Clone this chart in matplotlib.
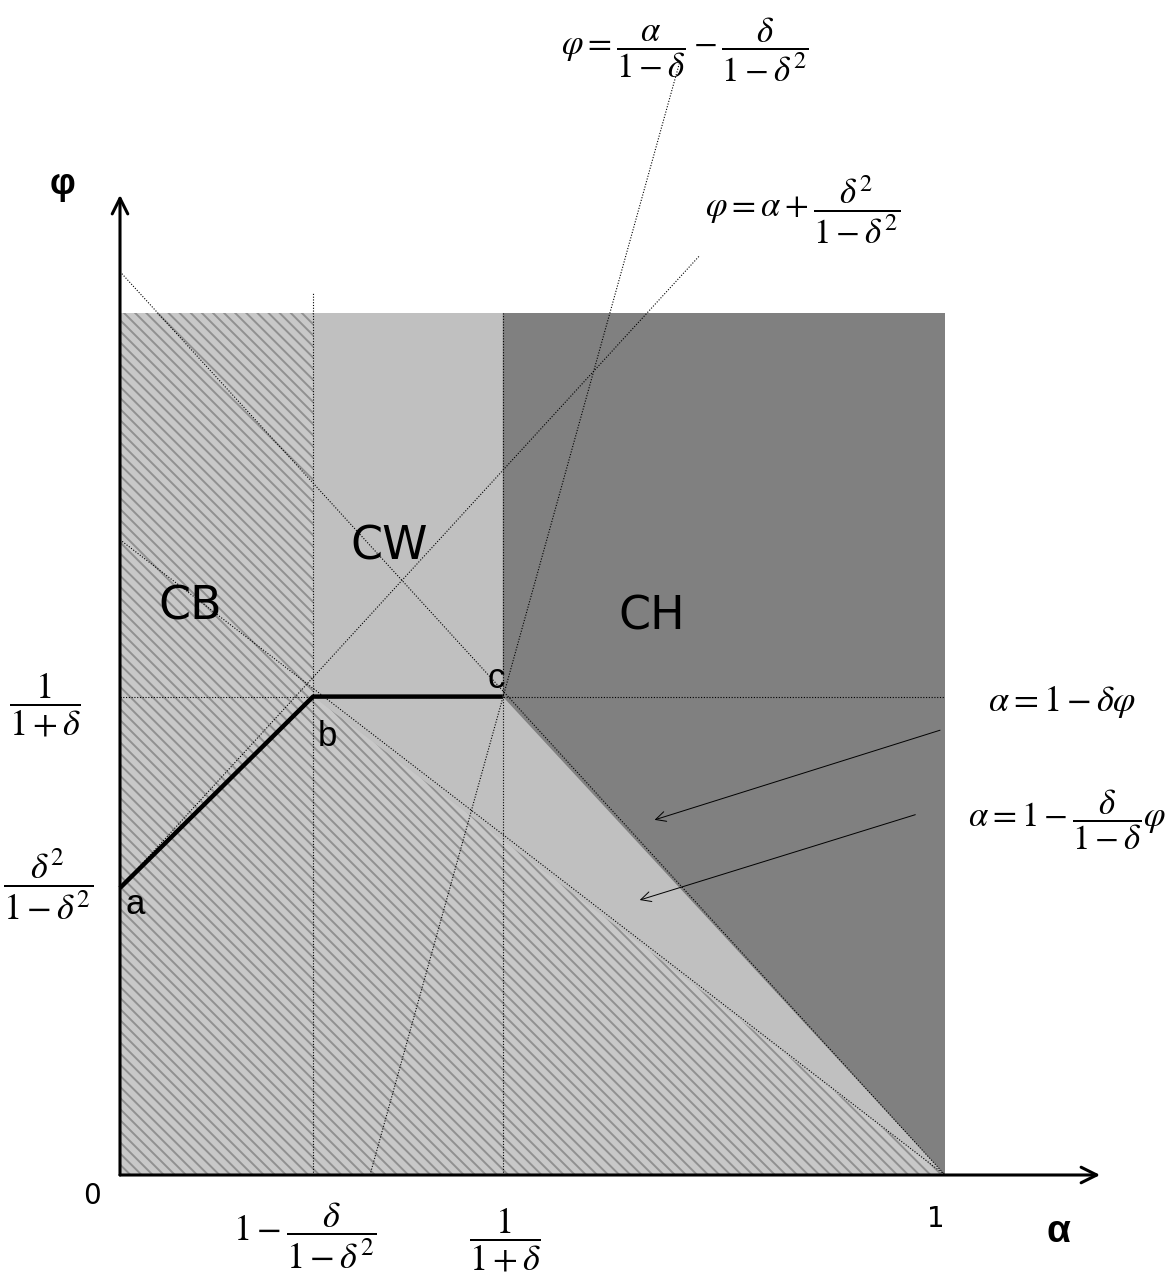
import matplotlib.pyplot as plt
import numpy as np

plt.rcParams['mathtext.fontset'] = 'stix'
plt.rcParams['hatch.linewidth'] = 1.4

ARIAL = ['Liberation Sans', 'DejaVu Sans']

# --- key points of the diagram (alpha, phi) ---
alpha_b = 0.234      # 1 - delta/(1-delta^2)
alpha_c = 0.464      # 1/(1+delta)
phi_c = 0.555        # 1/(1+delta)
phi_a = 0.333        # delta^2/(1-delta^2)

# region outlines
sq_alpha = [0, 1, 1, 0]
sq_phi = [0, 0, 1, 1]
cb_alpha = [0, 0, alpha_b, alpha_b, 1]
cb_phi = [0, 1, 1, phi_c, 0]
ch_alpha = [alpha_c, 1, 1, alpha_c]
ch_phi = [1, 1, 0, phi_c]

# thick equilibrium path a -> b -> c
path_alpha = [0, alpha_b, alpha_c]
path_phi = [phi_a, phi_c, phi_c]

# dotted guide lines: (alpha0, phi0, alpha1, phi1)
guide_lines = [
    (alpha_b, 0, alpha_b, 1.023),
    (alpha_c, 0, alpha_c, 1.0),
    (0, phi_c, 1, phi_c),
    (0, 1.048, 1, 0),          # alpha = 1 - delta*phi
    (0, 0.737, 1, 0),          # alpha = 1 - delta/(1-delta) phi
    (0, phi_a, 0.703, 1.067),  # phi = alpha + delta^2/(1-delta^2)
    (0.303, 0, 0.679, 1.293),  # phi = alpha/(1-delta) - delta/(1-delta^2)
]

fig = plt.figure(figsize=(11.69, 12.79), dpi=100)
ax = fig.add_axes([120 / 1169, 104 / 1279, 825 / 1169, 862 / 1279])
ax.set_xlim(0, 1)
ax.set_ylim(0, 1)
ax.axis('off')

# regions
ax.fill(sq_alpha, sq_phi, color='#c0c0c0', lw=0, zorder=1)
ax.fill(cb_alpha, cb_phi, facecolor='#c8c8c8', edgecolor='#909090',
        hatch='\\\\\\', lw=0, zorder=2)
ax.fill(ch_alpha, ch_phi, color='#808080', lw=0, zorder=3)

# guide lines
for a0, p0, a1, p1 in guide_lines:
    ax.plot([a0, a1], [p0, p1], color='black', lw=0.8,
            linestyle=(0, (1, 1.5)), clip_on=False, zorder=4)

# path
ax.plot(path_alpha, path_phi, color='black', lw=3.2, solid_capstyle='butt',
        clip_on=False, zorder=5)

# axes with arrows
ax.annotate('', xy=(1.188, 0), xytext=(0, 0),
            arrowprops=dict(arrowstyle='->', lw=2.2, color='black',
                            mutation_scale=28, shrinkA=0, shrinkB=0),
            zorder=6, annotation_clip=False)
ax.annotate('', xy=(0, 1.137), xytext=(0, 0),
            arrowprops=dict(arrowstyle='->', lw=2.2, color='black',
                            mutation_scale=28, shrinkA=0, shrinkB=0),
            zorder=6, annotation_clip=False)

# label arrows
ax.annotate('', xy=(0.648, 0.412), xytext=(0.994, 0.516),
            arrowprops=dict(arrowstyle='->', lw=0.7, color='black',
                            mutation_scale=18, shrinkA=0, shrinkB=0),
            annotation_clip=False, zorder=6)
ax.annotate('', xy=(0.630, 0.319), xytext=(0.964, 0.418),
            arrowprops=dict(arrowstyle='->', lw=0.7, color='black',
                            mutation_scale=18, shrinkA=0, shrinkB=0),
            annotation_clip=False, zorder=6)


def px(x, y):
    return (x - 120) / 825, (1175 - y) / 862


def put(x, y, s, **kw):
    a, p = px(x, y)
    ax.text(a, p, s, ha='center', va='center', clip_on=False, zorder=7, **kw)


# axis names and plain numbers
put(62, 185, 'φ', fontsize=26, fontweight='bold', family=ARIAL)
put(1058, 1232, 'α', fontsize=28, fontweight='bold', family=ARIAL)
put(92, 1196, '0', fontsize=20)
put(936, 1219, '1', fontsize=20)

# region names
put(190, 607, 'CB', fontsize=33)
put(389, 547, 'CW', fontsize=33)
put(652, 617, 'CH', fontsize=33)

# point names
put(135, 905, 'a', fontsize=25, family=ARIAL)
put(327, 737, 'b', fontsize=25, family=ARIAL)
put(496, 678, 'c', fontsize=25, family=ARIAL)

# math labels
put(45, 705, r'$\dfrac{1}{1+\delta}$', fontsize=26)
put(48, 884, r'$\dfrac{\delta^2}{1-\delta^2}$', fontsize=26)
put(305, 1236, r'$1-\dfrac{\delta}{1-\delta^2}$', fontsize=26)
put(505, 1240, r'$\dfrac{1}{1+\delta}$', fontsize=26)
put(685, 50, r'$\varphi=\dfrac{\alpha}{1-\delta}-\dfrac{\delta}{1-\delta^2}$', fontsize=25)
put(803, 210, r'$\varphi=\alpha+\dfrac{\delta^2}{1-\delta^2}$', fontsize=25)
put(1062, 702, r'$\alpha=1-\delta\varphi$', fontsize=26)
put(1067, 820, r'$\alpha=1-\dfrac{\delta}{1-\delta}\varphi$', fontsize=25)

fig.savefig('out.png', dpi=100, facecolor='white')
